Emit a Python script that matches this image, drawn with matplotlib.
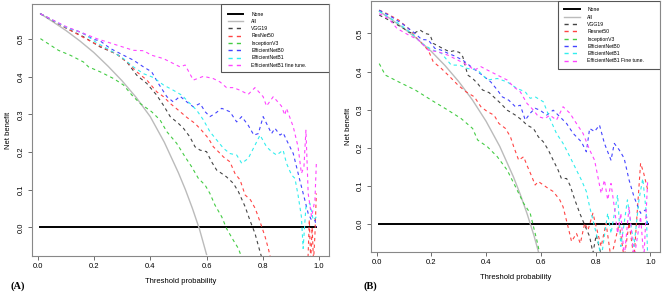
import matplotlib
matplotlib.use("Agg")
import matplotlib.pyplot as plt
from matplotlib.patches import Rectangle

plt.rcParams['font.family'] = ['Liberation Sans', 'DejaVu Sans']

# ---- data (threshold, net benefit) ----
none_t = [0.01, 0.99]
none_nb = [0.0, 0.0]

# panel A
a_all_t = [0.01, 0.05, 0.10, 0.15, 0.20, 0.25, 0.30, 0.35, 0.40, 0.45, 0.50, 0.525, 0.55, 0.575, 0.60]
a_all_nb = [0.567, 0.548, 0.523, 0.495, 0.464, 0.428, 0.389, 0.345, 0.294, 0.226, 0.145, 0.100, 0.050, -0.005, -0.072]

a_vgg_t = [0.01, 0.104, 0.163, 0.222, 0.281, 0.317, 0.352, 0.388, 0.423, 0.447, 0.471, 0.50, 0.518, 0.541, 0.559, 0.577,
           0.60, 0.618, 0.636, 0.654, 0.671, 0.695, 0.713, 0.737, 0.754, 0.772, 0.79, 0.80]
a_vgg_nb = [0.567, 0.528, 0.506, 0.479, 0.46, 0.439, 0.404, 0.382, 0.351, 0.324, 0.294, 0.276, 0.263, 0.24, 0.214, 0.205,
            0.201, 0.174, 0.152, 0.143, 0.134, 0.117, 0.095, 0.055, 0.019, -0.016, -0.065, -0.09]

a_res_t = [0.01, 0.104, 0.163, 0.222, 0.281, 0.317, 0.352, 0.388, 0.423, 0.447, 0.471, 0.50, 0.53, 0.559, 0.582, 0.607,
           0.624, 0.642, 0.66, 0.683, 0.701, 0.719, 0.737, 0.756, 0.773, 0.79, 0.808, 0.82, 0.83, 0.96, 0.965, 0.97, 0.975,
           0.98, 0.985, 0.99]
a_res_nb = [0.567, 0.528, 0.504, 0.481, 0.46, 0.439, 0.413, 0.391, 0.36, 0.347, 0.329, 0.311, 0.292, 0.276, 0.258, 0.236,
            0.214, 0.201, 0.187, 0.174, 0.143, 0.126, 0.086, 0.073, 0.05, 0.015, -0.025, -0.058, -0.09, -0.09, 0.02, -0.09,
            0.0, -0.09, -0.02, 0.09]

a_inc_t = [0.01, 0.045, 0.074, 0.116, 0.163, 0.181, 0.222, 0.27, 0.305, 0.335, 0.364, 0.405, 0.435, 0.459, 0.494, 0.524,
           0.547, 0.571, 0.595, 0.612, 0.63, 0.654, 0.671, 0.695, 0.713, 0.73]
a_inc_nb = [0.501, 0.484, 0.47, 0.457, 0.439, 0.426, 0.413, 0.395, 0.378, 0.351, 0.329, 0.307, 0.285, 0.254, 0.223, 0.187,
            0.161, 0.13, 0.112, 0.09, 0.059, 0.028, -0.003, -0.034, -0.056, -0.09]

a_b0_t = [0.01, 0.104, 0.151, 0.199, 0.222, 0.258, 0.305, 0.34, 0.376, 0.405, 0.429, 0.459, 0.482, 0.506, 0.53, 0.553,
          0.577, 0.595, 0.612, 0.63, 0.654, 0.683, 0.707, 0.725, 0.748, 0.768, 0.784, 0.801, 0.819, 0.831, 0.843, 0.861,
          0.872, 0.884, 0.908, 0.931, 0.949, 0.961, 0.973, 0.985, 0.99]
a_b0_nb = [0.567, 0.53, 0.519, 0.499, 0.495, 0.475, 0.457, 0.444, 0.426, 0.413, 0.382, 0.347, 0.333, 0.348, 0.333, 0.32,
           0.329, 0.307, 0.294, 0.302, 0.316, 0.307, 0.28, 0.294, 0.271, 0.245, 0.249, 0.294, 0.267, 0.249, 0.263, 0.245,
           0.251, 0.232, 0.196, 0.126, 0.073, 0.037, 0.019, 0.019, 0.002]

a_b1_t = [0.01, 0.104, 0.163, 0.21, 0.258, 0.305, 0.34, 0.376, 0.411, 0.447, 0.482, 0.512, 0.541, 0.565, 0.589, 0.612,
          0.636, 0.66, 0.683, 0.707, 0.725, 0.748, 0.772, 0.79, 0.813, 0.831, 0.849, 0.872, 0.884, 0.902, 0.914, 0.925,
          0.937, 0.943, 0.953, 0.967, 0.979, 0.99]
a_b1_nb = [0.567, 0.53, 0.515, 0.49, 0.47, 0.448, 0.426, 0.408, 0.398, 0.378, 0.364, 0.351, 0.329, 0.311, 0.285, 0.254,
           0.232, 0.21, 0.196, 0.192, 0.17, 0.183, 0.218, 0.245, 0.214, 0.201, 0.192, 0.205, 0.17, 0.139, 0.13, 0.086,
           0.028, -0.056, 0.055, 0.064, 0.019, 0.028]

a_ft_t = [0.01, 0.104, 0.163, 0.21, 0.281, 0.34, 0.376, 0.405, 0.447, 0.482, 0.506, 0.524, 0.553, 0.589, 0.624, 0.648,
          0.671, 0.695, 0.719, 0.748, 0.772, 0.801, 0.813, 0.837, 0.866, 0.878, 0.884, 0.908, 0.925, 0.937, 0.946, 0.953,
          0.961, 0.973, 0.985, 0.99]
a_ft_nb = [0.567, 0.532, 0.515, 0.501, 0.484, 0.47, 0.469, 0.457, 0.448, 0.435, 0.426, 0.431, 0.391, 0.401, 0.395, 0.386,
           0.371, 0.371, 0.364, 0.353, 0.371, 0.347, 0.322, 0.347, 0.322, 0.298, 0.316, 0.267, 0.214, 0.143, 0.161, 0.258,
           0.09, 0.028, 0.073, 0.17]

# panel B
b_all_t = [0.01, 0.05, 0.10, 0.15, 0.20, 0.25, 0.30, 0.35, 0.40, 0.45, 0.50, 0.525, 0.55, 0.575, 0.60]
b_all_nb = [0.558, 0.539, 0.513, 0.485, 0.453, 0.416, 0.374, 0.326, 0.270, 0.204, 0.124, 0.078, 0.027, -0.030, -0.095]

b_vgg_t = [0.01, 0.056, 0.099, 0.117, 0.135, 0.159, 0.177, 0.195, 0.207, 0.225, 0.249, 0.267, 0.285, 0.303, 0.315, 0.333,
           0.351, 0.369, 0.387, 0.411, 0.441, 0.453, 0.477, 0.507, 0.531, 0.549, 0.573, 0.591, 0.609, 0.627, 0.645, 0.663,
           0.675, 0.694, 0.706, 0.724, 0.742, 0.76, 0.778, 0.79, 0.802, 0.814, 0.825]
b_vgg_nb = [0.548, 0.531, 0.513, 0.504, 0.5, 0.509, 0.5, 0.497, 0.474, 0.467, 0.458, 0.452, 0.455, 0.45, 0.439, 0.391,
            0.382, 0.369, 0.352, 0.345, 0.325, 0.317, 0.299, 0.286, 0.273, 0.26, 0.251, 0.229, 0.216, 0.195, 0.168, 0.142,
            0.12, 0.12, 0.103, 0.064, 0.029, -0.002, -0.032, -0.075, -0.028, -0.063, -0.09]

b_res_t = [0.01, 0.038, 0.081, 0.117, 0.153, 0.189, 0.207, 0.237, 0.267, 0.297, 0.327, 0.357, 0.381, 0.405, 0.429, 0.447,
           0.471, 0.489, 0.501, 0.519, 0.537, 0.549, 0.567, 0.579, 0.591, 0.609, 0.627, 0.645, 0.669, 0.681, 0.699, 0.712,
           0.73, 0.744, 0.76, 0.772, 0.79, 0.808, 0.82, 0.838, 0.856, 0.886, 0.904, 0.922, 0.94, 0.964, 0.975, 0.99]
b_res_nb = [0.561, 0.552, 0.535, 0.513, 0.483, 0.456, 0.426, 0.408, 0.387, 0.365, 0.347, 0.334, 0.308, 0.295, 0.286, 0.264,
            0.251, 0.229, 0.203, 0.168, 0.177, 0.155, 0.125, 0.103, 0.112, 0.103, 0.094, 0.086, 0.064, 0.046, -0.006, -0.045,
            -0.024, -0.05, 0.003, -0.015, 0.029, -0.024, -0.058, 0.003, -0.09, 0.003, -0.09, 0.003, -0.09, 0.16, 0.135, 0.09]

b_inc_t = [0.01, 0.032, 0.081, 0.141, 0.201, 0.261, 0.309, 0.351, 0.369, 0.405, 0.441, 0.477, 0.507, 0.537, 0.561, 0.585, 0.6]
b_inc_nb = [0.421, 0.391, 0.373, 0.352, 0.325, 0.299, 0.277, 0.251, 0.221, 0.203, 0.177, 0.142, 0.099, 0.055, 0.029, -0.041, -0.09]

b_b0_t = [0.01, 0.044, 0.093, 0.141, 0.165, 0.189, 0.213, 0.237, 0.261, 0.285, 0.315, 0.345, 0.369, 0.393, 0.417, 0.441,
          0.459, 0.483, 0.507, 0.525, 0.543, 0.561, 0.579, 0.597, 0.621, 0.645, 0.669, 0.694, 0.718, 0.748, 0.766, 0.778,
          0.796, 0.814, 0.832, 0.856, 0.868, 0.886, 0.904, 0.922, 0.94, 0.964, 0.982, 0.99]
b_b0_nb = [0.561, 0.548, 0.526, 0.5, 0.484, 0.483, 0.461, 0.456, 0.448, 0.441, 0.43, 0.413, 0.4, 0.387, 0.373, 0.352,
           0.334, 0.325, 0.308, 0.312, 0.273, 0.291, 0.304, 0.299, 0.286, 0.299, 0.282, 0.264, 0.238, 0.216, 0.19, 0.251,
           0.243, 0.26, 0.212, 0.168, 0.212, 0.195, 0.173, 0.116, 0.072, 0.029, 0.038, 0.0]

b_b1_t = [0.01, 0.081, 0.129, 0.165, 0.201, 0.237, 0.273, 0.303, 0.333, 0.369, 0.405, 0.441, 0.477, 0.513, 0.543, 0.561,
          0.579, 0.609, 0.633, 0.657, 0.681, 0.706, 0.73, 0.748, 0.766, 0.778, 0.796, 0.808, 0.82, 0.844, 0.856, 0.88,
          0.892, 0.916, 0.94, 0.958, 0.972, 0.985, 0.99]
b_b1_nb = [0.558, 0.526, 0.5, 0.474, 0.458, 0.448, 0.417, 0.417, 0.408, 0.404, 0.378, 0.382, 0.373, 0.356, 0.347, 0.33,
           0.334, 0.321, 0.277, 0.238, 0.212, 0.177, 0.142, 0.116, 0.086, 0.046, -0.006, -0.041, -0.09, 0.029, -0.024, 0.077,
           -0.058, 0.064, -0.058, 0.064, 0.12, 0.029, -0.09]

b_ft_t = [0.01, 0.044, 0.075, 0.117, 0.153, 0.189, 0.225, 0.261, 0.297, 0.333, 0.357, 0.381, 0.405, 0.441, 0.477, 0.501,
          0.525, 0.549, 0.573, 0.591, 0.615, 0.633, 0.657, 0.681, 0.706, 0.73, 0.754, 0.778, 0.796, 0.808, 0.82, 0.832,
          0.844, 0.856, 0.868, 0.88, 0.892, 0.904, 0.922, 0.94, 0.964, 0.976, 0.99]
b_ft_nb = [0.552, 0.539, 0.513, 0.496, 0.483, 0.456, 0.452, 0.443, 0.43, 0.417, 0.404, 0.413, 0.404, 0.391, 0.378, 0.36,
           0.347, 0.317, 0.299, 0.282, 0.277, 0.286, 0.273, 0.308, 0.291, 0.264, 0.238, 0.195, 0.168, 0.125, 0.081, 0.116,
           0.064, 0.107, 0.046, -0.024, 0.029, -0.09, 0.046, -0.09, 0.02, -0.09, 0.116]

labels_a = ["None", "All", "VGG19", "ResNet50", "InceptionV3", "EfficientNetB0", "EfficientNetB1",
            "EfficientNetB1 fine tune."]
labels_b = ["None", "All", "VGG19", "Resnet50", "InceptionV3", "EfficientNetB0", "EfficientNetB1",
            "EfficientNetB1 Fine tune."]

model_colors = ["#444444", "#ff4444", "#44cc44", "#4444ff", "#33eeee", "#ff44ff"]

fig = plt.figure(figsize=(6.69, 2.94), dpi=100)
ax_a = fig.add_axes([0.0478, 0.1293, 0.4440, 0.8571])
ax_b = fig.add_axes([0.5546, 0.1429, 0.4320, 0.8537])


def draw_panel(ax, all_curve, models, labels, ylim, box_x0, box_y0, leg_x, leg_y):
    ax.plot(none_t, none_nb, color="black", lw=1.4, label=labels[0])
    ax.plot(all_curve[0], all_curve[1], color="#bbbbbb", lw=1.0, label=labels[1])
    for (t, nb), col, lab in zip(models, model_colors, labels[2:]):
        ax.plot(t, nb, color=col, lw=0.8, dashes=(3, 3), label=lab)
    ax.set_xlim(-0.02, 1.035)
    ax.set_ylim(*ylim)
    ax.set_xticks([0.0, 0.2, 0.4, 0.6, 0.8, 1.0])
    ax.set_yticks([0.0, 0.1, 0.2, 0.3, 0.4, 0.5])
    ax.tick_params(labelsize=5.5, length=3, width=0.6, color="#555555", pad=2)
    for lbl in ax.get_yticklabels():
        lbl.set_rotation(90)
        lbl.set_va("center")
    for sp in ax.spines.values():
        sp.set_color("#888888")
        sp.set_linewidth(0.8)
    ax.set_xlabel("Threshold probability", fontsize=5.5, labelpad=6)
    ax.set_ylabel("Net benefit", fontsize=5.5, labelpad=4)
    # R-style legend box: wide frame flush with the top-right corner
    ax.add_patch(Rectangle((box_x0, box_y0), 1 - box_x0, 1 - box_y0, transform=ax.transAxes,
                           facecolor="white", edgecolor="#555555", lw=0.8, zorder=4))
    leg = ax.legend(loc="upper left", bbox_to_anchor=(leg_x, leg_y), fontsize=3.7, frameon=False,
                    borderaxespad=0, borderpad=0, handlelength=3.0, labelspacing=0.45, handletextpad=1.5)
    for h in leg.get_lines()[2:]:
        h.set_linewidth(1.0)
    leg.set_zorder(5)


draw_panel(ax_a, (a_all_t, a_all_nb),
           [(a_vgg_t, a_vgg_nb), (a_res_t, a_res_nb), (a_inc_t, a_inc_nb),
            (a_b0_t, a_b0_nb), (a_b1_t, a_b1_nb), (a_ft_t, a_ft_nb)],
           labels_a, (-0.076, 0.593), 0.636, 0.730, 0.660, 0.97)
draw_panel(ax_b, (b_all_t, b_all_nb),
           [(b_vgg_t, b_vgg_nb), (b_res_t, b_res_nb), (b_inc_t, b_inc_nb),
            (b_b0_t, b_b0_nb), (b_b1_t, b_b1_nb), (b_ft_t, b_ft_nb)],
           labels_b, (-0.0725, 0.585), 0.647, 0.729, 0.668, 0.975)

fig.text(0.027, 0.027, "(A)", fontsize=7.5, fontweight="bold", family="Liberation Serif", ha="center", va="center")
fig.text(0.553, 0.027, "(B)", fontsize=7.5, fontweight="bold", family="Liberation Serif", ha="center", va="center")

fig.savefig("out.png", dpi=100)
